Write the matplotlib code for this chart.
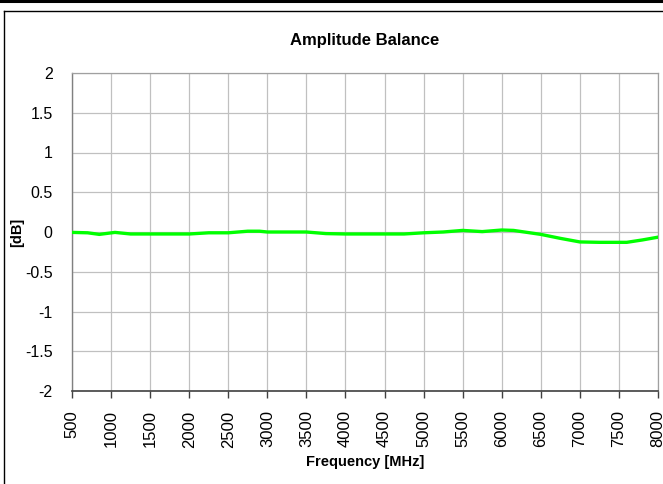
import matplotlib
matplotlib.use("Agg")
import matplotlib.pyplot as plt
from matplotlib.lines import Line2D

plt.rcParams["font.family"] = ["Liberation Sans", "DejaVu Sans"]

# amplitude balance readings
freq_mhz = [500, 700, 850, 1050, 1250, 1500, 1750, 2000, 2250, 2500, 2750,
            2900, 3000, 3250, 3500, 3750, 4000, 4250, 4500, 4750, 5000, 5250,
            5500, 5750, 6000, 6150, 6500, 6750, 7000, 7250, 7600, 7800, 8000]
balance_db = [-0.005, -0.01, -0.03, -0.005, -0.025, -0.025, -0.025, -0.025,
              -0.01, -0.01, 0.01, 0.01, 0.0, 0.0, 0.0, -0.02, -0.025, -0.025,
              -0.025, -0.025, -0.01, 0.0, 0.02, 0.005, 0.025, 0.02, -0.03,
              -0.08, -0.125, -0.13, -0.13, -0.1, -0.065]

x_ticks = list(range(500, 8001, 500))
y_ticks = [-2, -1.5, -1, -0.5, 0, 0.5, 1, 1.5, 2]

W, H = 663, 484
fig = plt.figure(figsize=(W / 100, H / 100), dpi=100)
fig.patch.set_facecolor("white")

# outer frame like the report page
fig.add_artist(Line2D([0, 1], [1 - 1.2 / H, 1 - 1.2 / H], color="black", lw=2.2))
fig.add_artist(Line2D([3.5 / W, 3.5 / W], [0, 1 - 10.5 / H], color="black", lw=1.0))
fig.add_artist(Line2D([3.5 / W, 1], [1 - 10.5 / H, 1 - 10.5 / H], color="black", lw=1.0))

ax = fig.add_axes([72 / W, 1 - 391 / H, (658 - 72) / W, (391 - 73) / H])

ax.plot(freq_mhz, balance_db, color="#00ff00", lw=2.4, solid_joinstyle="round", zorder=3)

ax.set_xlim(500, 8000)
ax.set_ylim(-2, 2)
ax.set_xticks(x_ticks)
ax.set_yticks(y_ticks)
ax.set_xticklabels([str(v) for v in x_ticks], rotation=90, fontsize=12)
ax.set_yticklabels(["%g" % v for v in y_ticks], fontsize=11.5)
ax.tick_params(axis="x", direction="out", length=5, width=1, color="#404040", pad=9)
ax.tick_params(axis="y", length=0, pad=14)

ax.grid(True, color="#c0c0c0", lw=0.9)
ax.set_axisbelow(True)

for side in ("top", "right"):
    ax.spines[side].set_color("#a0a0a0")
    ax.spines[side].set_linewidth(0.9)
ax.spines["left"].set_color("#808080")
ax.spines["left"].set_linewidth(1.0)
ax.spines["bottom"].set_color("#404040")
ax.spines["bottom"].set_linewidth(1.2)

fig.text(365 / W, 1 - 40 / H, "Amplitude Balance", ha="center", va="center",
         fontsize=12, fontweight="bold")
fig.text(365 / W, 1 - 462 / H, "Frequency [MHz]", ha="center", va="center",
         fontsize=10.5, fontweight="bold")
fig.text(17 / W, 1 - 232 / H, "[dB]", ha="center", va="center", rotation=90,
         fontsize=10.5, fontweight="bold")

fig.savefig("out.png", dpi=100)
